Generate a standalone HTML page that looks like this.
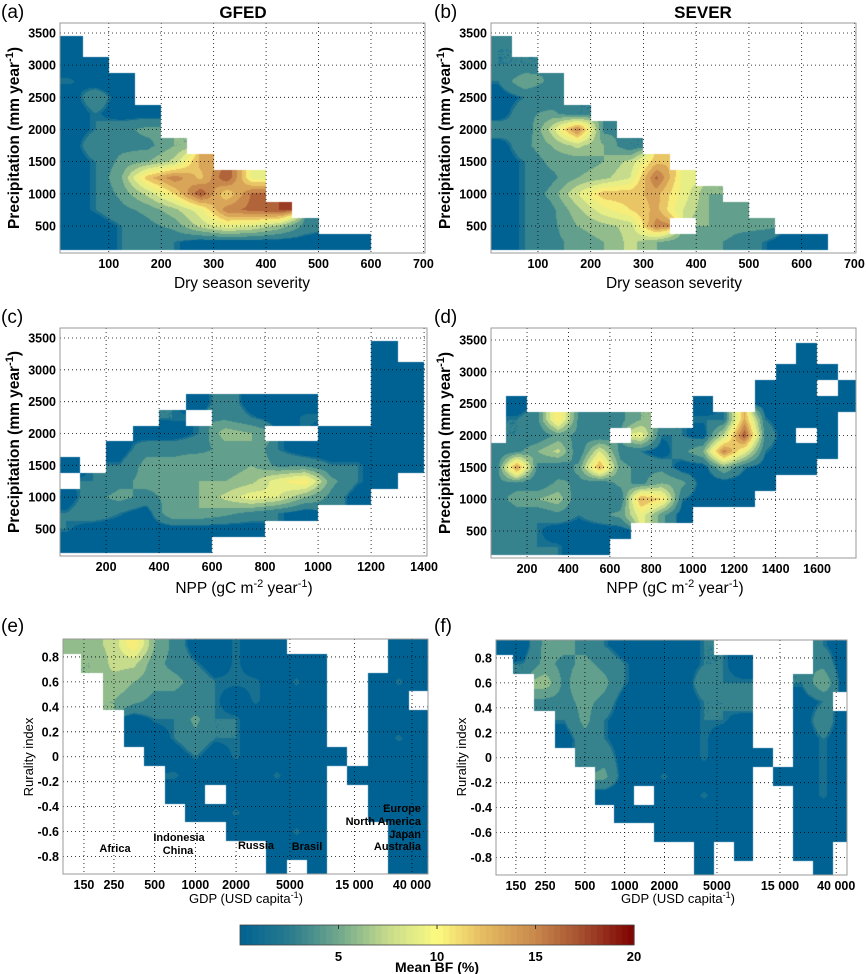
<!DOCTYPE html>
<html><head><meta charset="utf-8">
<style>
body{margin:0;background:#fff;width:866px;height:974px;overflow:hidden;position:relative;font-family:"Liberation Sans",Arial,sans-serif}
canvas{position:absolute}
svg{position:absolute;left:0;top:0}
text{font-family:"Liberation Sans",Arial,sans-serif;fill:#000}
.tk{font-size:12.5px;font-weight:bold}
.ax{font-size:15.5px}
.yl{font-size:15.5px;font-weight:bold}
.pl{font-size:19px}
.ann{font-size:11px;font-weight:bold}
</style></head>
<body>
<svg id="s" width="866" height="974"></svg>
<script>
// ---------- DATA ----------
const aCols=[25,75,125,175,225,275,325,375,425,475,525,575,625,675];
const aRows=[3250,3000,2750,2500,2250,2000,1750,1500,1250,1000,750,500,250];
const aVals=[
[2,0,0,0,0,0,0,0,0,0,0,0,0,0],
[2,2,0,0,0,0,0,0,0,0,0,0,0,0],
[3,2,2,0,0,0,0,0,0,0,0,0,0,0],
[2,4,2,0,0,0,0,0,0,0,0,0,0,0],
[2,3,2,2,0,0,0,0,0,0,0,0,0,0],
[2,3,4,5,0,0,0,0,0,0,0,0,0,0],
[2,4,4,4,6,0,0,0,0,0,0,0,0,0],
[2,3,5,6,8,14,0,0,0,0,0,0,0,0],
[2,3,6,13,16,13,18,10,0,0,0,0,0,0],
[2,3,5,8,12,18,12,17,0,0,0,0,0,0],
[2,3,4,5,7,10,16,17,18,0,0,0,0,0],
[2,2,3,4,5,8,10,9,7,4,0,0,0,0],
[2,2,3,3,3,2,2,2,2,2,2,2,0,0]];
const bCols=[25,75,125,175,225,275,325,375,425,475,525,575,625,675];
const bRows=[3250,3000,2750,2500,2250,2000,1750,1500,1250,1000,750,500,250];
const bVals=[
[3,0,0,0,0,0,0,0,0,0,0,0,0,0],
[3,3,0,0,0,0,0,0,0,0,0,0,0,0],
[3,6,4,0,0,0,0,0,0,0,0,0,0,0],
[2,3,3,0,0,0,0,0,0,0,0,0,0,0],
[2,4,5,3,0,0,0,0,0,0,0,0,0,0],
[4,3,8,16,4,0,0,0,0,0,0,0,0,0],
[2,4,6,8,6,3,0,0,0,0,0,0,0,0],
[2,3,5,5,6,8,13,0,0,0,0,0,0,0],
[2,3,4,6,7,9,17,10,0,0,0,0,0,0],
[2,3,5,9,13,13,14,10,6,0,0,0,0,0],
[2,3,4,7,10,12,14,9,6,5,0,0,0,0],
[2,3,4,6,7,8,16,0,6,5,5,0,0,0],
[2,3,4,5,6,8,6,5,5,4,3,2,2,0]];
const cCols=[50,150,250,350,450,550,650,750,850,950,1050,1150,1250,1350];
const cRows=[3250,3000,2750,2500,2250,2000,1750,1500,1250,1000,750,500,250];
const cVals=[
[0,0,0,0,0,0,0,0,0,0,0,0,2,0],
[0,0,0,0,0,0,0,0,0,0,0,0,2,2],
[0,0,0,0,0,0,0,0,0,0,0,0,2,2],
[0,0,0,0,0,2,4,2,2,2,0,0,2,2],
[0,0,0,0,3,0,4,3,2,3,0,0,2,2],
[0,0,0,2,2,3,7,6,0,0,2,2,2,2],
[0,0,2,4,4,4,5,6,3,2,2,2,2,2],
[2,0,3,5,5,6,5,6,4,4,3,3,2,2],
[0,3,4,5,5,6,6,7,10,12,5,3,2,0],
[2,4,5,4,5,6,8,10,9,6,4,2,0,0],
[3,4,3,2,6,6,5,4,3,2,0,0,0,0],
[3,2,2,2,2,2,2,2,0,0,0,0,0,0],
[2,2,2,2,2,2,0,0,0,0,0,0,0,0]];
const dCols=[50,150,250,350,450,550,650,750,850,950,1050,1150,1250,1350,1450,1550,1650,1750];
const dRows=[3250,3000,2750,2500,2250,2000,1750,1500,1250,1000,750,500,250];
const dVals=[
[0,0,0,0,0,0,0,0,0,0,0,0,0,0,0,2,0,0],
[0,0,0,0,0,0,0,0,0,0,0,0,0,0,2,2,2,0],
[0,0,0,0,0,0,0,0,0,0,0,0,0,2,2,2,0,2],
[0,2,0,0,0,0,0,0,0,0,2,0,0,2,2,2,2,2],
[0,3,4,12,4,3,4,6,0,0,3,3,14,3,2,2,2,0],
[0,3,3,5,4,3,0,10,3,3,2,8,18,4,2,0,2,0],
[3,4,6,8,3,9,4,3,2,4,6,16,10,3,2,2,2,0],
[3,15,4,3,5,14,5,4,4,2,2,6,3,2,2,2,0,0],
[4,4,3,5,4,3,5,4,6,5,2,2,2,2,0,0,0,0],
[4,5,6,7,3,4,3,14,12,3,2,2,2,0,0,0,0,0],
[3,4,3,4,3,4,5,10,5,2,0,0,0,0,0,0,0,0],
[3,4,3,2,2,2,2,0,0,0,0,0,0,0,0,0,0,0],
[3,4,3,3,2,2,0,0,0,0,0,0,0,0,0,0,0,0]];
const eCols=[120,170,250,350,500,700,1000,1400,2000,2800,4000,5600,8000,11000,16000,22000,32000,45000];
const eRows=[0.9,0.75,0.6,0.45,0.3,0.15,0,-0.15,-0.3,-0.45,-0.6,-0.75,-0.9];
const eVals=[
[6,7,8,12,6,4,2,2,3,2,2,0,0,0,0,0,2,2],
[0,6,8,8,5,4,3,2,3,2,2,2,2,0,0,0,2,2],
[0,0,7,6,5,5,4,3,3,3,2,3,2,0,0,2,3,2],
[0,0,6,5,4,4,3,3,2,3,2,2,2,0,0,2,2,0],
[0,0,0,2,3,3,5,3,3,2,2,2,2,0,0,2,2,2],
[0,0,0,2,2,3,4,3,3,2,2,2,2,0,0,2,3,2],
[0,0,0,0,2,2,3,2,3,2,2,2,2,2,0,2,2,2],
[0,0,0,0,0,3,2,2,2,2,3,2,2,0,2,2,2,2],
[0,0,0,0,0,2,2,0,2,2,2,2,2,0,0,2,2,2],
[0,0,0,0,0,0,2,2,3,2,2,2,2,0,0,2,2,2],
[0,0,0,0,0,0,0,0,2,2,2,3,2,0,0,0,2,2],
[0,0,0,0,0,0,0,0,0,0,2,2,2,0,0,0,2,2],
[0,0,0,0,0,0,0,0,0,0,2,0,2,0,0,0,2,2]];
const fCols=[120,170,250,350,500,700,1000,1400,2000,2800,4000,5600,8000,11000,16000,22000,32000,45000];
const fRows=[0.9,0.75,0.6,0.45,0.3,0.15,0,-0.15,-0.3,-0.45,-0.6,-0.75,-0.9];
const fVals=[
[2,2,5,5,4,3,2,2,2,2,3,0,0,0,0,0,3,2],
[0,3,5,4,5,4,3,2,2,2,3,3,2,0,0,0,4,2],
[0,0,7,4,6,5,3,2,2,2,4,3,3,0,0,3,6,2],
[0,0,4,4,5,4,2,2,2,2,3,3,4,0,0,2,3,0],
[0,0,0,3,5,3,2,2,2,2,3,3,2,0,0,2,4,2],
[0,0,0,2,4,3,2,2,2,2,3,2,2,0,0,2,3,2],
[0,0,0,0,3,4,2,2,2,2,3,2,2,2,0,2,3,2],
[0,0,0,0,0,5,2,2,3,2,2,2,2,0,2,2,3,2],
[0,0,0,0,0,2,2,0,2,2,3,2,2,0,0,2,3,2],
[0,0,0,0,0,0,2,2,2,2,2,2,2,0,0,2,2,2],
[0,0,0,0,0,0,0,0,2,2,2,2,2,0,0,2,2,2],
[0,0,0,0,0,0,0,0,0,0,2,0,2,0,0,2,2,0],
[0,0,0,0,0,0,0,0,0,0,2,0,0,0,0,0,2,0]];
const precipTicks=[500,1000,1500,2000,2500,3000,3500];
const dryTicks=[100,200,300,400,500,600,700];
const nppTicksC=[200,400,600,800,1000,1200,1400];
const nppTicksD=[200,400,600,800,1000,1200,1400,1600];
const ruralTicks=[-0.8,-0.6,-0.4,-0.2,0,0.2,0.4,0.6,0.8];
const gdpTicks=[150,250,500,1000,2000,5000,15000,40000];
const gdpTickLabels=["150","250","500","1000","2000","5000","15 000","40 000"];
const cbTicks=[5,10,15,20];
// ---------- COLORMAP ----------
const stops=[[0,[0,98,146]],[2.5,[40,122,142]],[5,[112,168,140]],[7.5,[198,219,140]],[10,[252,250,128]],[12.5,[228,184,96]],[15,[200,136,76]],[17.5,[162,74,44]],[20,[127,0,0]]];
function cmap(v){v=Math.max(0,Math.min(20,v));for(let i=0;i<stops.length-1;i++){const[a,ca]=stops[i],[b,cb]=stops[i+1];if(v<=b){const t=(v-a)/(b-a);return ca.map((c,k)=>Math.round(c+(cb[k]-c)*t));}}return stops[8][1];}
const S=document.getElementById('s');const NS='http://www.w3.org/2000/svg';
function el(tag,attrs,txt){const e=document.createElementNS(NS,tag);for(const k in attrs)e.setAttribute(k,attrs[k]);if(txt!==undefined)e.textContent=txt;S.appendChild(e);return e;}
function mkScale(d0,d1,p0,p1,log){const f=log?Math.log10:(v=>v);const a=f(d0),b=f(d1);return{f,map:v=>p0+(f(v)-a)/(b-a)*(p1-p0),inv:p=>a+(p-p0)/(p1-p0)*(b-a)};}
function locate(arr,u){const n=arr.length;const asc=arr[n-1]>arr[0];
 for(let i=0;i<n-1;i++){const lo=arr[i],hi=arr[i+1];if(asc?(u>=lo&&u<=hi):(u<=lo&&u>=hi))return i+(u-lo)/(hi-lo);}
 const step0=arr[1]-arr[0],stepN=arr[n-1]-arr[n-2];
 if(asc?u<arr[0]:u>arr[0])return (u-arr[0])/step0;return n-1+(u-arr[n-1])/stepN;}
function panel(cfg){
 const {id,L,R,T,B,xd,yd,log,cols,rows,vals}=cfg;
 const xs=mkScale(xd[0],xd[1],L,R,log),ys=mkScale(yd[0],yd[1],B,T,false);
 const cf=cols.map(xs.f);
 const W=R-L,H=B-T;
 const cv=document.createElement('canvas');cv.width=W;cv.height=H;cv.style.left=L+'px';cv.style.top=T+'px';
 
 
 document.body.insertBefore(cv,S);
 const ctx=cv.getContext('2d');const img=ctx.createImageData(W,H);
 const nr=rows.length,nc=cols.length;
 for(let py=0;py<H;py++){const fy=locate(rows,ys.inv(T+py+0.5));
  for(let px=0;px<W;px++){const fx=locate(cf,xs.inv(L+px+0.5));
   const o=(py*W+px)*4;let r=255,g=255,b=255;
   const ni=Math.max(0,Math.min(nr-1,Math.round(fy))),nj=Math.max(0,Math.min(nc-1,Math.round(fx)));
   if(fy>-0.8&&fy<nr-0.5&&fx>-0.8&&fx<nc-0.5&&vals[ni][nj]>0){
    const i0=Math.max(0,Math.min(nr-2,Math.floor(fy))),j0=Math.max(0,Math.min(nc-2,Math.floor(fx)));
    const ty=Math.max(0,Math.min(1,fy-i0)),tx=Math.max(0,Math.min(1,fx-j0));
    let s=0,w=0;[[0,0],[0,1],[1,0],[1,1]].forEach(([di,dj])=>{const v=vals[i0+di][j0+dj];if(v>0){const ww=(di?ty:1-ty)*(dj?tx:1-tx);s+=v*ww;w+=ww;}});
    let v=w>0?s/w:vals[ni][nj];
    const lv=v<2.8?0:Math.min(19.5,Math.floor(v/1.5)*1.5);
    [r,g,b]=cmap(lv);}
   img.data[o]=r;img.data[o+1]=g;img.data[o+2]=b;img.data[o+3]=255;}}
 ctx.putImageData(img,0,0);
 cfg.xt.forEach((t,i)=>{const x=xs.map(t);
  const g=el('line',{x1:x,x2:x,y1:T,y2:B,stroke:'#000','stroke-width':0.8,'stroke-dasharray':'1,3'});
  const tl=el('text',{x:x,y:B+15,'text-anchor':'middle',class:'tk'},cfg.xl?cfg.xl[i]:String(t));});
 cfg.yt.forEach(t=>{const y=ys.map(t);
  const g=el('line',{x1:L,x2:R,y1:y,y2:y,stroke:'#000','stroke-width':0.8,'stroke-dasharray':'1,3'});
  const tl=el('text',{x:L-4,y:y+4.5,'text-anchor':'end',class:'tk'},String(t));});
 const bx=el('rect',{x:L,y:T,width:W,height:H,fill:'none',stroke:'#999','stroke-width':1});
}
panel({id:'panel-a',L:60,R:425,T:23,B:253,xd:[7,703],yd:[80,3655],cols:aCols,rows:aRows,vals:aVals,xt:dryTicks,yt:precipTicks});
panel({id:'panel-b',L:491,R:856,T:23,B:253,xd:[11,703],yd:[80,3655],cols:bCols,rows:bRows,vals:bVals,xt:dryTicks,yt:precipTicks});
panel({id:'panel-c',L:60,R:427,T:328,B:556,xd:[26,1411],yd:[76,3657],cols:cCols,rows:cRows,vals:cVals,xt:nppTicksC,yt:precipTicks});
panel({id:'panel-d',L:491,R:856,T:328,B:558,xd:[26,1788],yd:[76,3688],cols:dCols,rows:dRows,vals:dVals,xt:nppTicksD,yt:precipTicks});
panel({id:'panel-e',L:63,R:428,T:639,B:874,xd:[105,52500],yd:[-0.94,0.944],log:true,cols:eCols,rows:eRows,vals:eVals,xt:gdpTicks,xl:gdpTickLabels,yt:ruralTicks});
panel({id:'panel-f',L:496,R:847,T:640,B:875,xd:[106,48300],yd:[-0.94,0.944],log:true,cols:fCols,rows:fRows,vals:fVals,xt:gdpTicks,xl:gdpTickLabels,yt:ruralTicks});
const cbL=240,cbR=634,cbT=925,cbB=945;
for(let i=0;i<64;i++){const v=i*20/64;const c=cmap(v+20/128);
 const r=el('rect',{x:cbL+i*(cbR-cbL)/64,y:cbT,width:(cbR-cbL)/64+0.6,height:cbB-cbT,fill:'rgb('+c.join(',')+')'});
 }
el('rect',{x:cbL,y:cbT,width:cbR-cbL,height:cbB-cbT,fill:'none',stroke:'#444','stroke-width':0.8});
cbTicks.forEach(t=>{const x=cbL+t/20*(cbR-cbL);
 const l=el('line',{x1:x,x2:x,y1:cbT,y2:cbT+4,stroke:'#333'});
 const tx=el('text',{x:x,y:961,'text-anchor':'middle',class:'tk',style:'font-size:13px'},String(t));});
</script>
<svg width="866" height="974" style="pointer-events:none">
<text class="pl" x="1" y="18">(a)</text>
<text x="243" y="18" text-anchor="middle" style="font-size:17px;font-weight:bold">GFED</text>
<text class="pl" x="434" y="18">(b)</text>
<text x="703" y="18" text-anchor="middle" style="font-size:17px;font-weight:bold">SEVER</text>
<text class="ax" x="242" y="288" text-anchor="middle">Dry season severity</text>
<text class="ax" x="674" y="288" text-anchor="middle">Dry season severity</text>
<text class="yl" transform="translate(19,138) rotate(-90)" text-anchor="middle">Precipitation (mm year<tspan dy="-6" font-size="11">-1</tspan><tspan dy="6">)</tspan></text>
<text class="yl" transform="translate(450,138) rotate(-90)" text-anchor="middle">Precipitation (mm year<tspan dy="-6" font-size="11">-1</tspan><tspan dy="6">)</tspan></text>
<text class="pl" x="1" y="323">(c)</text>
<text class="pl" x="434" y="323">(d)</text>
<text class="yl" transform="translate(19,442) rotate(-90)" text-anchor="middle">Precipitation (mm year<tspan dy="-6" font-size="11">-1</tspan><tspan dy="6">)</tspan></text>
<text class="yl" transform="translate(450,443) rotate(-90)" text-anchor="middle">Precipitation (mm year<tspan dy="-6" font-size="11">-1</tspan><tspan dy="6">)</tspan></text>
<text class="ax" x="244" y="593" text-anchor="middle">NPP (gC m<tspan dy="-6" font-size="11">-2</tspan><tspan dy="6"> year</tspan><tspan dy="-6" font-size="11">-1</tspan><tspan dy="6">)</tspan></text>
<text class="ax" x="675" y="593" text-anchor="middle">NPP (gC m<tspan dy="-6" font-size="11">-2</tspan><tspan dy="6"> year</tspan><tspan dy="-6" font-size="11">-1</tspan><tspan dy="6">)</tspan></text>
<text class="pl" x="1" y="632">(e)</text>
<text class="pl" x="434" y="632">(f)</text>
<text transform="translate(33,757) rotate(-90)" text-anchor="middle" style="font-size:13px">Rurality index</text>
<text transform="translate(466,757) rotate(-90)" text-anchor="middle" style="font-size:13px">Rurality index</text>
<text x="246" y="903" text-anchor="middle" style="font-size:13px">GDP (USD  capita<tspan dy="-5" font-size="9">-1</tspan><tspan dy="5">)</tspan></text>
<text x="678" y="903" text-anchor="middle" style="font-size:13px">GDP (USD  capita<tspan dy="-5" font-size="9">-1</tspan><tspan dy="5">)</tspan></text>
<text class="ann" x="115" y="852" text-anchor="middle">Africa</text>
<text class="ann" x="179" y="841" text-anchor="middle">Indonesia</text>
<text class="ann" x="178" y="854" text-anchor="middle">China</text>
<text class="ann" x="256" y="849" text-anchor="middle">Russia</text>
<text class="ann" x="307" y="850" text-anchor="middle">Brasil</text>
<text class="ann" x="421" y="812" text-anchor="end">Europe</text>
<text class="ann" x="421" y="825" text-anchor="end">North America</text>
<text class="ann" x="421" y="838" text-anchor="end">Japan</text>
<text class="ann" x="421" y="850" text-anchor="end">Australia</text>
<text x="437" y="972" text-anchor="middle" style="font-size:14px;font-weight:bold">Mean BF (%)</text>
</svg>
</body></html>
